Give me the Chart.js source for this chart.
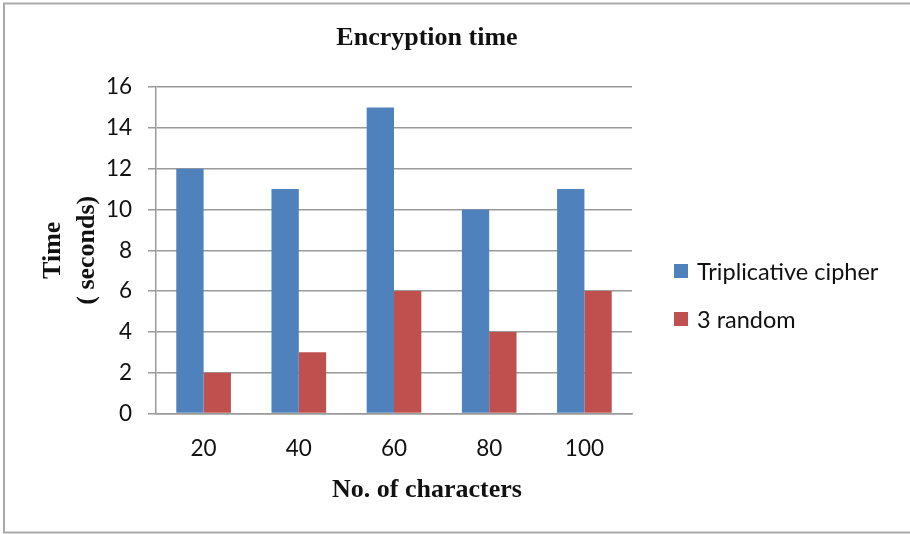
<!DOCTYPE html>
<html>
<head>
<meta charset="utf-8">
<script src="https://cdn.jsdelivr.net/npm/chart.js@4"></script>
<style>
  html, body { margin: 0; padding: 0; background: #fff; }
  #wrap { position: relative; width: 910px; height: 534px; }
</style>
</head>
<body>
<div id="wrap"><canvas id="c" width="910" height="534"></canvas></div>
<script>
// Chart data
const categories = ['20', '40', '60', '80', '100'];
const tripCipher = [12, 11, 15, 10, 11];
const threeRandom = [2, 3, 6, 4, 6];
const yTicks = [0, 2, 4, 6, 8, 10, 12, 14, 16];

const chartTitle = 'Encryption time';
const xTitle = 'No. of characters';
const yTitleLines = ['Time', '( seconds)'];
const seriesNames = ['Triplicative cipher', '3 random'];
const seriesColors = ['#4F81BD', '#C0504D'];

const SANS = 'Lato, "Open Sans", sans-serif';
const SERIF = '"Liberation Serif", "DejaVu Serif", serif';

// Frame, titles and legend drawn around the plot area
const decorations = {
  id: 'decorations',
  beforeDraw(chart) {
    const ctx = chart.ctx;
    ctx.save();
    ctx.strokeStyle = '#a9a9a9';
    ctx.lineWidth = 2;
    ctx.strokeRect(4, 3.5, 912, 529);
    ctx.restore();
  },
  afterDraw(chart) {
    const ctx = chart.ctx;
    const area = chart.chartArea;
    const midX = 427;
    ctx.save();
    ctx.fillStyle = '#111';
    ctx.textAlign = 'center';
    ctx.textBaseline = 'middle';

    ctx.font = 'bold 26px ' + SERIF;
    ctx.fillText(chartTitle, midX, 38);
    ctx.fillText(xTitle, midX, 490);

    // rotated y-axis title, two lines
    ctx.save();
    ctx.translate(0, (area.top + area.bottom) / 2);
    ctx.rotate(-Math.PI / 2);
    ctx.font = 'bold 26px ' + SERIF;
    ctx.fillText(yTitleLines[0], 0, 53);
    ctx.fillText(yTitleLines[1], 0, 87);
    ctx.restore();

    // legend
    ctx.font = '23.5px ' + SANS;
    ctx.textAlign = 'left';
    chart.data.datasets.forEach((ds, i) => {
      const cy = 271 + i * 48;
      ctx.fillStyle = ds.backgroundColor;
      ctx.fillRect(674, cy - 7, 14, 14);
      ctx.fillStyle = '#111';
      ctx.fillText(ds.label, 697, cy + 1);
    });
    ctx.restore();
  }
};

new Chart(document.getElementById('c'), {
  type: 'bar',
  data: {
    labels: categories,
    datasets: [
      { label: seriesNames[0], data: tripCipher, backgroundColor: seriesColors[0] },
      { label: seriesNames[1], data: threeRandom, backgroundColor: seriesColors[1] }
    ]
  },
  options: {
    responsive: false,
    animation: false,
    devicePixelRatio: 1,
    layout: { padding: { left: 0, right: 278, top: 87, bottom: 0 } },
    datasets: { bar: { barPercentage: 1, categoryPercentage: 0.574 } },
    plugins: {
      legend: { display: false },
      title: { display: false },
      tooltip: { enabled: false }
    },
    scales: {
      x: {
        grid: { display: false },
        border: { display: true, color: '#9a9a9a', width: 1.5 },
        ticks: { color: '#111', font: { family: SANS, size: 22.5 }, padding: 14 },
        afterFit(scale) { scale.height = 120.5; }
      },
      y: {
        min: 0,
        max: 16,
        afterBuildTicks(scale) { scale.ticks = yTicks.map(v => ({ value: v })); },
        grid: { color: '#9a9a9a', lineWidth: 1.5, tickLength: 8 },
        border: { display: true, color: '#9a9a9a', width: 1.5 },
        ticks: { color: '#111', font: { family: SANS, size: 22.5 }, padding: 16 },
        afterFit(scale) { scale.width = 156; }
      }
    }
  },
  plugins: [decorations]
});
</script>
</body>
</html>
